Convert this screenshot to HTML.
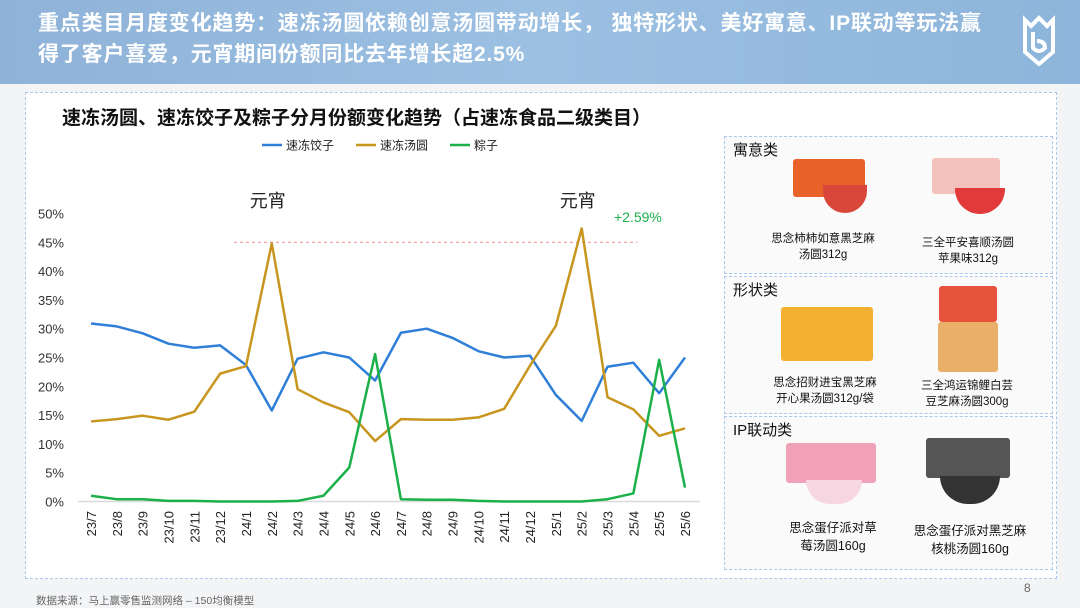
<!DOCTYPE html>
<html><head><meta charset="utf-8">
<style>
body{margin:0;width:1080px;height:608px;overflow:hidden;background:#f3f4f6;font-family:"Liberation Sans","Noto Sans CJK SC",sans-serif;position:relative}
.hdr{position:absolute;left:0;top:0;width:1080px;height:84px;background:linear-gradient(90deg,#8fb3d8,#9cc0e2 50%,#8db4da)}
.hdr h1{position:absolute;left:38px;top:8px;margin:0;color:#fff;font-size:21px;line-height:31px;font-weight:bold;width:1000px;letter-spacing:0.8px;white-space:nowrap}
.panel{position:absolute;left:25px;top:92px;width:1030px;height:485px;background:#fff;border:1px dashed #a9c8ea}
.box{position:absolute;left:724px;width:327px;border:1px dashed #a9c8ea;background:#fafafa}
.box .t{position:absolute;left:8px;top:2px;font-size:15px;color:#111}
.prod{position:absolute;font-size:11.5px;color:#111;text-align:center;line-height:16px;width:130px}
.img{position:absolute;border-radius:3px}
</style></head><body>
<div class="hdr">
<h1>重点类目月度变化趋势：速冻汤圆依赖创意汤圆带动增长， 独特形状、美好寓意、IP联动等玩法赢<br>得了客户喜爱，元宵期间份额同比去年增长超2.5%</h1>
<svg style="position:absolute;left:1022px;top:14px" width="34" height="52" viewBox="0 0 34 52"><path d="M3 6 L9 12 L17 4 L25 12 L31 6 L31 38 L17 50 L3 38 Z" fill="none" stroke="#fff" stroke-width="4"/><path d="M11 18 L11 34 Q17 40 23 34 Q23 27 15 27" fill="none" stroke="#fff" stroke-width="4"/></svg>
</div>
<div class="panel"></div>
<div style="position:absolute;left:62px;top:103px;font-size:19px;font-weight:bold;color:#111">速冻汤圆、速冻饺子及粽子分月份额变化趋势（占速冻食品二级类目）</div>
<svg id="chart" style="position:absolute;left:0;top:0" width="720" height="580"></svg>

<div class="box" style="top:136px;height:136px"><div class="t">寓意类</div></div>
<div class="box" style="top:276px;height:136px"><div class="t">形状类</div></div>
<div class="box" style="top:416px;height:152px"><div class="t">IP联动类</div></div>

<div class="img" style="left:793px;top:159px;width:72px;height:38px;background:#e8622a"></div>
<div class="img" style="left:823px;top:185px;width:44px;height:28px;background:#d9473a;border-radius:0 0 22px 22px"></div>
<div class="prod" style="left:758px;top:231px">思念柿柿如意黑芝麻<br>汤圆312g</div>
<div class="img" style="left:932px;top:158px;width:68px;height:36px;background:#f3c2bc"></div>
<div class="img" style="left:955px;top:188px;width:50px;height:26px;background:#e23a3a;border-radius:0 0 25px 25px"></div>
<div class="prod" style="left:903px;top:235px">三全平安喜顺汤圆<br>苹果味312g</div>
<div class="img" style="left:781px;top:307px;width:92px;height:54px;background:#f2b131"></div>
<div class="prod" style="left:760px;top:375px">思念招财进宝黑芝麻<br>开心果汤圆312g/袋</div>
<div class="img" style="left:939px;top:286px;width:58px;height:36px;background:#e6533a"></div>
<div class="img" style="left:938px;top:322px;width:60px;height:50px;background:#eab06a"></div>
<div class="prod" style="left:902px;top:378px">三全鸿运锦鲤白芸<br>豆芝麻汤圆300g</div>
<div class="img" style="left:786px;top:443px;width:90px;height:40px;background:#f2a2b8"></div>
<div class="img" style="left:806px;top:480px;width:56px;height:24px;background:#f6d6e0;border-radius:0 0 28px 28px"></div>
<div class="prod" style="left:768px;top:519px;font-size:12.5px;line-height:18px">思念蛋仔派对草<br>莓汤圆160g</div>
<div class="img" style="left:926px;top:438px;width:84px;height:40px;background:#555"></div>
<div class="img" style="left:940px;top:476px;width:60px;height:28px;background:#333;border-radius:0 0 30px 30px"></div>
<div class="prod" style="left:900px;top:522px;font-size:12.5px;line-height:18px;width:140px">思念蛋仔派对黑芝麻<br>核桃汤圆160g</div>

<div style="position:absolute;left:36px;top:593px;font-size:10.5px;color:#666">数据来源：马上赢零售监测网络 – 150均衡模型</div>
<div style="position:absolute;left:1024px;top:581px;font-size:12px;color:#666">8</div>

<script>
const categories=["23/7","23/8","23/9","23/10","23/11","23/12","24/1","24/2","24/3","24/4","24/5","24/6","24/7","24/8","24/9","24/10","24/11","24/12","25/1","25/2","25/3","25/4","25/5","25/6"];
const dumplings=[30.9,30.4,29.2,27.4,26.7,27.1,23.7,15.8,24.8,25.9,25.0,21.0,29.3,30.0,28.4,26.1,25.0,25.3,18.5,14.0,23.4,24.1,18.8,25.0];
const tangyuan=[13.9,14.3,14.9,14.2,15.6,22.2,23.5,44.8,19.5,17.2,15.5,10.5,14.3,14.2,14.2,14.6,16.1,23.6,30.5,47.4,18.1,16.0,11.4,12.7];
const zongzi=[1.0,0.4,0.4,0.1,0.1,0,0,0,0.1,1.0,5.9,25.6,0.4,0.3,0.3,0.1,0,0,0,0,0.4,1.4,24.6,2.4];
const yTicks=[0,5,10,15,20,25,30,35,40,45,50];
const seriesNames=["速冻饺子","速冻汤圆","粽子"];
const refLine=45;
const NS="http://www.w3.org/2000/svg";
const svg=document.getElementById('chart');
const x=i=>91+i*(685-91)/(categories.length-1);
const y=v=>501.5-v*(501.5-213.5)/50;
function mk(t,a){const e=document.createElementNS(NS,t);for(const k in a)e.setAttribute(k,a[k]);svg.appendChild(e);return e;}
yTicks.forEach(v=>{const t=mk('text',{x:64,y:y(v)+5,'text-anchor':'end','font-size':13,fill:'#333'});t.textContent=v+'%';

});
const ax=mk('line',{x1:78,x2:700,y1:y(0),y2:y(0),stroke:'#d9d9d9','stroke-width':1.5});


categories.forEach((c,i)=>{const t=mk('text',{transform:`translate(${x(i)+5},${511}) rotate(-90)`,'text-anchor':'end','font-size':13,fill:'#222'});t.textContent=c;

});
const rl=mk('line',{x1:x(6)-12,x2:x(21)+4,y1:y(refLine),y2:y(refLine),stroke:'#f08a8a','stroke-width':1,'stroke-dasharray':'3,3'});


const cols=['#2f7fd8','#c8961e','#1bb04a'];
[dumplings,tangyuan,zongzi].forEach((s,k)=>{const p=mk('polyline',{points:s.map((v,i)=>x(i)+','+y(v)).join(' '),fill:'none',stroke:cols[k],'stroke-width':2.5,'stroke-linejoin':'round'});

});
const lx=[262,356,450];
seriesNames.forEach((n,k)=>{const l=mk('line',{x1:lx[k],x2:lx[k]+20,y1:145,y2:145,stroke:cols[k],'stroke-width':2.5});


const t=mk('text',{x:lx[k]+24,y:149.5,'font-size':12,fill:'#222'});t.textContent=n;

});
[[x(7),'元宵'],[x(19),'元宵']].forEach(([px,s])=>{const t=mk('text',{x:px-4,y:207,'text-anchor':'middle','font-size':18,fill:'#222'});t.textContent=s;

});
const g=mk('text',{x:614,y:222,'font-size':14,fill:'#1bb04a'});g.textContent='+2.59%';


</script>
</body></html>
